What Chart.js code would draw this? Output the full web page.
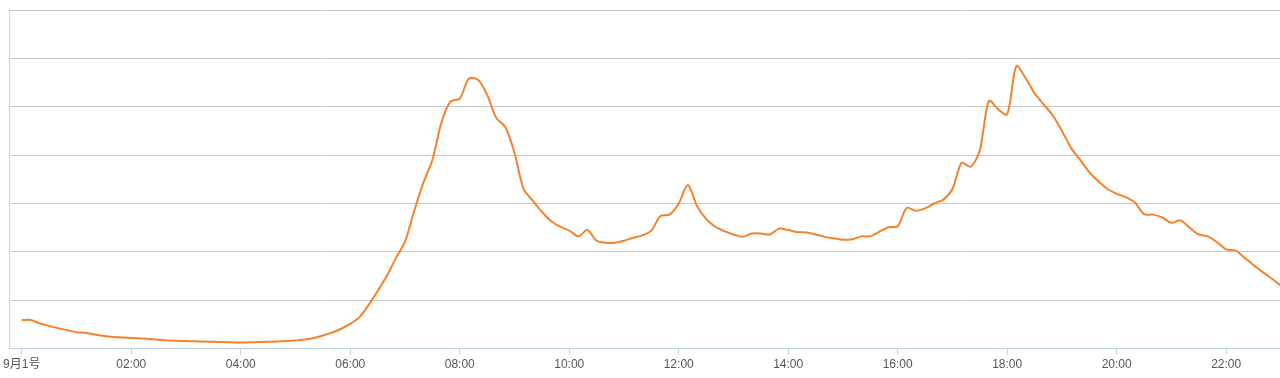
<!DOCTYPE html>
<html>
<head>
<meta charset="utf-8">
<script src="https://cdn.jsdelivr.net/npm/chart.js@4/dist/chart.umd.min.js"></script>
<style>
  html, body { margin: 0; padding: 0; background: #fff; }
  #wrap { width: 1280px; height: 378px; position: relative; }
</style>
</head>
<body>
<div id="wrap"><canvas id="myChart"></canvas></div>
<script>
// one sample every 10 minutes, starting at 00:00
const stepMinutes = 10;
const traffic = [
  59, 59, 52, 47, 42, 38, 34, 33, 29, 26,
  24, 23, 22, 21, 20, 18.5, 17, 16, 15.5, 15,
  14.5, 14, 13.5, 13, 12.5, 13, 13.5, 14, 14.5, 15.5,
  17, 19, 22, 27, 33, 41, 51, 65, 90, 119,
  150, 187, 221, 284, 342, 390, 468, 511, 517, 558,
  556, 525, 477, 458, 405, 330, 306, 283, 264, 252,
  244, 232, 245, 223, 219, 219, 223, 229, 234, 244,
  274, 277, 300, 338, 295, 268, 252, 243, 236, 231,
  238, 238, 236, 248, 245, 241, 240, 236, 231, 228,
  225, 226, 232, 232, 242, 251, 253, 291, 285, 290,
  300, 308, 330, 384, 376, 410, 512, 495, 484, 584,
  560, 528, 505, 482, 450, 415, 390, 365, 346, 330,
  320, 313, 302, 278, 277, 271, 260, 265, 250, 236,
  232, 220, 205, 203, 188, 173, 158, 145, 130
];
const tickMinutes = [0, 120, 240, 360, 480, 600, 720, 840, 960, 1080, 1200, 1320];
const tickLabels = ['9月1号', '02:00', '04:00', '06:00', '08:00', '10:00',
  '12:00', '14:00', '16:00', '18:00', '20:00', '22:00'];

const points = traffic.map((v, i) => ({ x: i * stepMinutes, y: v }));

const ctx = document.getElementById('myChart');

const config = {
  type: 'line',
  data: {
    datasets: [{
      data: points,
      borderColor: '#f5822a',
      borderWidth: 2,
      pointRadius: 0,
      tension: 0.3,
      fill: false,
    }],
  },
  options: {
    responsive: true,
    maintainAspectRatio: false,
    animation: false,
    layout: { padding: { left: 9, top: 10, right: 0, bottom: 3 } },
    plugins: { legend: { display: false }, tooltip: { enabled: false } },
    scales: {
      x: {
        type: 'linear',
        min: -14,
        max: 1379,
        afterBuildTicks: (axis) => {
          axis.ticks = tickMinutes.map((v) => ({ value: v }));
        },
        grid: { drawOnChartArea: false, drawTicks: true, tickLength: 6, color: '#c0d0e0' },
        border: { color: '#c0d0e0' },
        ticks: {
          autoSkip: false,
          maxRotation: 0,
          padding: 3,
          color: '#555',
          font: { family: '"Liberation Sans", "Noto Sans CJK SC", sans-serif', size: 12 },
          callback: (v) => tickLabels[tickMinutes.indexOf(v)],
        },
      },
      y: {
        min: 0,
        max: 700,
        ticks: { display: false, stepSize: 100 },
        grid: { color: '#c8c8c8', drawTicks: false },
        border: { color: '#ccd6e0' },
      },
    },
  },
};

new Chart(ctx, config);
</script>
</body>
</html>
